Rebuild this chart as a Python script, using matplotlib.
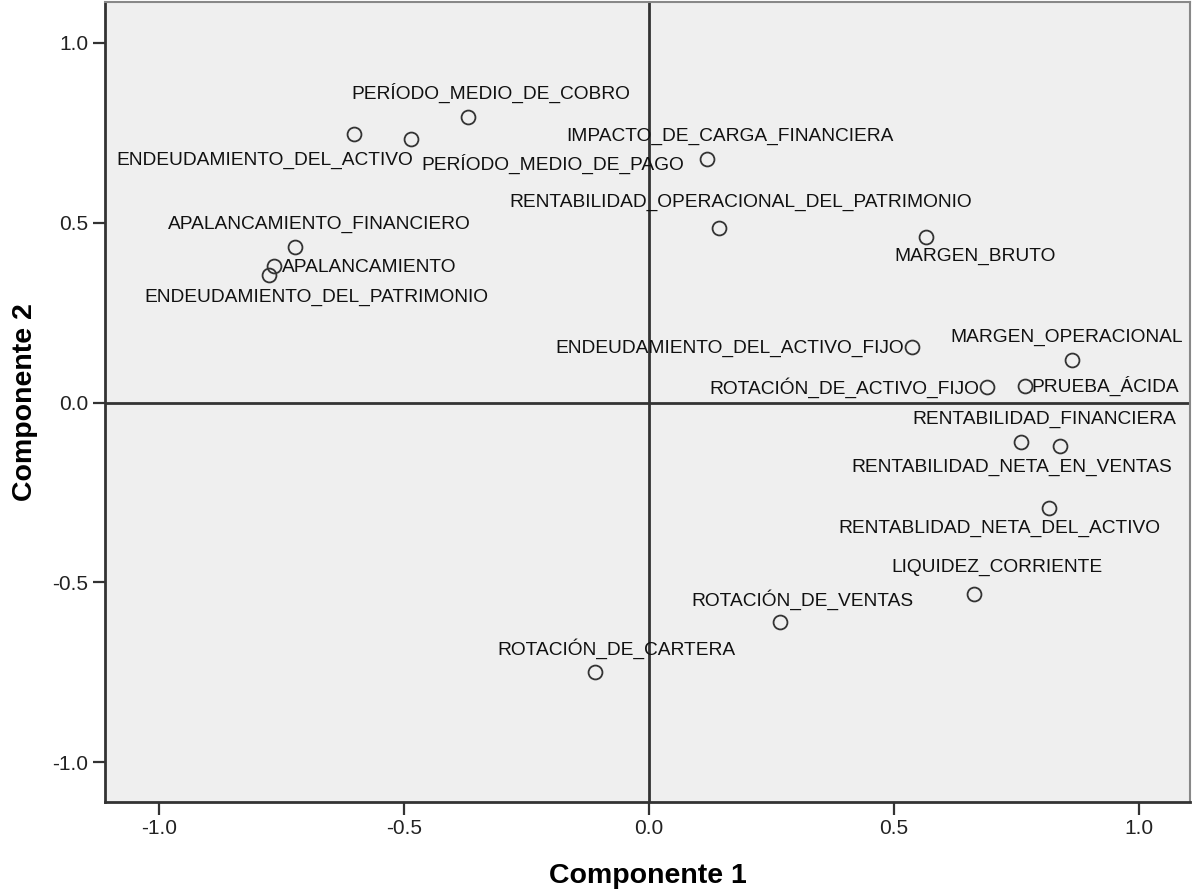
import matplotlib
matplotlib.use("Agg")
import matplotlib.pyplot as plt

plt.rcParams['font.family'] = ['Liberation Sans', 'DejaVu Sans']

# component loadings
variables = [
    "PERÍODO_MEDIO_DE_COBRO", "ENDEUDAMIENTO_DEL_ACTIVO", "PERÍODO_MEDIO_DE_PAGO",
    "IMPACTO_DE_CARGA_FINANCIERA", "RENTABILIDAD_OPERACIONAL_DEL_PATRIMONIO",
    "MARGEN_BRUTO", "APALANCAMIENTO_FINANCIERO", "APALANCAMIENTO",
    "ENDEUDAMIENTO_DEL_PATRIMONIO", "MARGEN_OPERACIONAL",
    "ENDEUDAMIENTO_DEL_ACTIVO_FIJO", "PRUEBA_ÁCIDA", "ROTACIÓN_DE_ACTIVO_FIJO",
    "RENTABILIDAD_FINANCIERA", "RENTABILIDAD_NETA_EN_VENTAS",
    "RENTABLIDAD_NETA_DEL_ACTIVO", "LIQUIDEZ_CORRIENTE", "ROTACIÓN_DE_VENTAS",
    "ROTACIÓN_DE_CARTERA",
]
comp1 = [-0.369, -0.602, -0.486, 0.118, 0.143, 0.567, -0.722, -0.765, -0.776,
         0.865, 0.537, 0.769, 0.690, 0.839, 0.761, 0.818, 0.665, 0.269, -0.110]
comp2 = [0.794, 0.747, 0.731, 0.678, 0.486, 0.461, 0.433, 0.378, 0.353,
         0.119, 0.153, 0.047, 0.042, -0.122, -0.111, -0.294, -0.531, -0.611, -0.750]

# where each label sits relative to its marker (pixels) and its alignment
label_offsets = [(23, 24), (-89, -27), (11, -24), (23, 22), (22, 25),
                 (49, -20), (24, 22), (8, -1), (48, -22), (-6, 22),
                 (-8, -1), (6, 0), (-7, 0), (-15, 27), (-10, -25),
                 (-50, -20), (22, 26), (22, 23), (22, 24)]
label_ha = ['center', 'center', 'left', 'center', 'center',
            'center', 'center', 'left', 'center', 'center',
            'right', 'left', 'right', 'center', 'center',
            'center', 'center', 'center', 'center']

fig = plt.figure(figsize=(11.95, 8.9), dpi=100)
ax = fig.add_axes([0.0879, 0.0989, 0.9079, 0.8989])
ax.set_facecolor('#EFEFEF')

ax.axhline(0, color='#333333', lw=2.0, zorder=1)
ax.axvline(0, color='#333333', lw=2.0, zorder=1)

ax.plot(comp1, comp2, 'o', ms=10, mfc='none', mec='#333333', mew=1.3, zorder=3)

for name, x, y, off, ha in zip(variables, comp1, comp2, label_offsets, label_ha):
    ax.annotate(name, xy=(x, y), xytext=off, textcoords='offset pixels',
                ha=ha, va='center', fontsize=13.8, color='#111111', zorder=4)

ax.set_xlim(-1.11, 1.105)
ax.set_ylim(-1.11, 1.113)
ax.set_xticks([-1.0, -0.5, 0.0, 0.5, 1.0])
ax.set_yticks([-1.0, -0.5, 0.0, 0.5, 1.0])
ax.set_xticklabels(['-1.0', '-0.5', '0.0', '0.5', '1.0'])
ax.set_yticklabels(['-1.0', '-0.5', '0.0', '0.5', '1.0'])
ax.tick_params(axis='both', length=9, width=1.6, color='#333333',
               labelsize=15, labelcolor='#222222', pad=3)

for side in ['left', 'bottom']:
    ax.spines[side].set_color('#333333')
    ax.spines[side].set_linewidth(2.0)
for side in ['top', 'right']:
    ax.spines[side].set_color('#888888')
    ax.spines[side].set_linewidth(1.5)

ax.set_xlabel('Componente 1', fontsize=20.5, fontweight='bold', labelpad=18)
ax.set_ylabel('Componente 2', fontsize=20.5, fontweight='bold', labelpad=10)

fig.savefig('out.png', dpi=100)
